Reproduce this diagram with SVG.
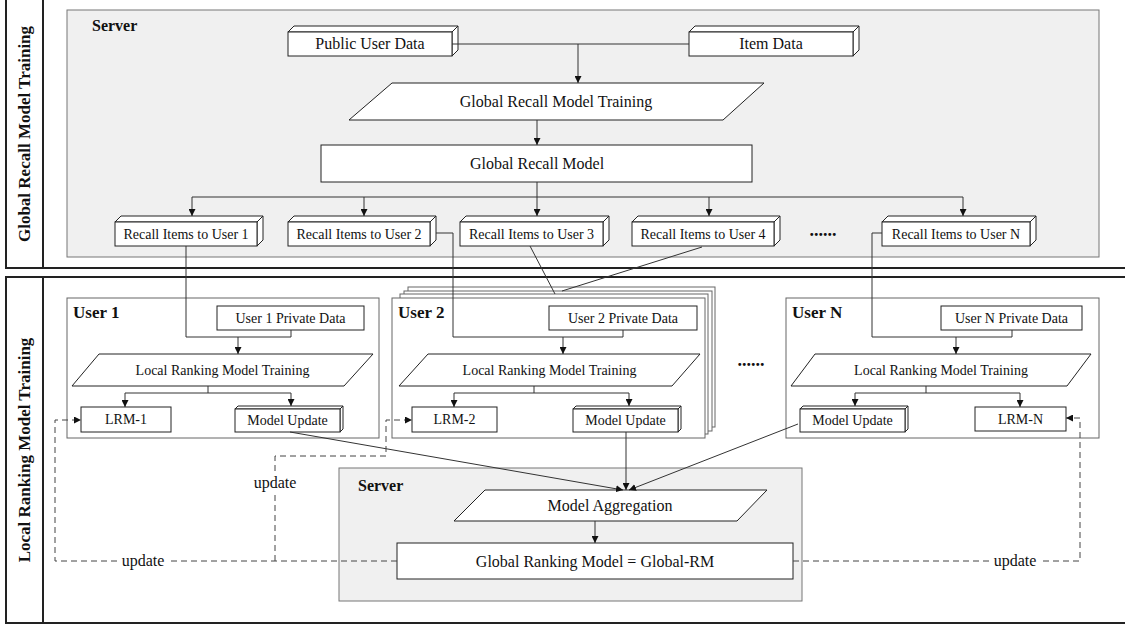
<svg xmlns="http://www.w3.org/2000/svg" width="1125" height="628" viewBox="0 0 1125 628">
<defs>
<marker id="ah" viewBox="0 0 10 10" refX="10" refY="5" markerWidth="7" markerHeight="7" markerUnits="userSpaceOnUse" orient="auto">
<path d="M0,0 L10,5 L0,10 z" fill="#111"/>
</marker>
</defs>
<style>
text{font-family:"Liberation Serif","Times New Roman",serif;fill:#111}
.t16{font-size:16px;text-anchor:middle}
.t14{font-size:14px;text-anchor:middle}
.b{font-weight:bold}
.lbl{font-size:17px;font-weight:bold;text-anchor:middle}
.frame{fill:none;stroke:#222;stroke-width:2}
.srv{fill:#f0f0f0;stroke:#777;stroke-width:1}
.user{fill:#fff;stroke:#666;stroke-width:1}
.box{fill:#fff;stroke:#222;stroke-width:1}
.conn{fill:none;stroke:#333;stroke-width:1}
.dash{fill:none;stroke:#444;stroke-width:1;stroke-dasharray:6 4}
.bg{fill:#fff}
</style>

<!-- frames -->
<g id="frames">
<path class="frame" d="M6,-2 V268 H1127"/>
<line class="frame" x1="43" y1="-2" x2="43" y2="268"/>
<path class="frame" d="M1127,277 H6 V623 H1127"/>
<line class="frame" x1="43" y1="277" x2="43" y2="623"/>
<text class="lbl" transform="translate(30,134) rotate(-90)">Global Recall Model Training</text>
<text class="lbl" transform="translate(30,450) rotate(-90)">Local Ranking Model Training</text>
</g>

<!-- top server -->
<g id="server-top">
<rect class="srv" x="67" y="10" width="1032" height="247"/>
<text x="92" y="31" class="b" style="font-size:16px">Server</text>
</g>

<g id="public-user-data">
<polygon class="box" points="288,32 294,26 458,26 452,32"/>
<polygon class="box" points="452,32 458,26 458,50 452,56"/>
<rect class="box" x="288" y="32" width="164" height="24"/>
<text class="t16" x="370" y="49">Public User Data</text>
</g>
<g id="item-data">
<polygon class="box" points="689,32 695,26 859,26 853,32"/>
<polygon class="box" points="853,32 859,26 859,50 853,56"/>
<rect class="box" x="689" y="32" width="164" height="24"/>
<text class="t16" x="771" y="49">Item Data</text>
</g>
<g id="global-recall-training">
<polygon class="box" points="392,83 764,83 723,120 349,120"/>
<text class="t16" x="556" y="107">Global Recall Model Training</text>
</g>
<g id="global-recall-model">
<rect class="box" x="321" y="145" width="431" height="37"/>
<text class="t16" x="537" y="169">Global Recall Model</text>
</g>

<g id="recall-1">
<polygon class="box" points="115,222 121,216 263,216 257,222"/>
<polygon class="box" points="257,222 263,216 263,240 257,246"/>
<rect class="box" x="115" y="222" width="142" height="24"/>
<text class="t14" x="186" y="239">Recall Items to User 1</text>
</g>
<g id="recall-2">
<polygon class="box" points="288,222 294,216 436,216 430,222"/>
<polygon class="box" points="430,222 436,216 436,240 430,246"/>
<rect class="box" x="288" y="222" width="142" height="24"/>
<text class="t14" x="359" y="239">Recall Items to User 2</text>
</g>
<g id="recall-3">
<polygon class="box" points="460,222 466,216 609,216 603,222"/>
<polygon class="box" points="603,222 609,216 609,240 603,246"/>
<rect class="box" x="460" y="222" width="143" height="24"/>
<text class="t14" x="531.5" y="239">Recall Items to User 3</text>
</g>
<g id="recall-4">
<polygon class="box" points="632,222 638,216 780,216 774,222"/>
<polygon class="box" points="774,222 780,216 780,240 774,246"/>
<rect class="box" x="632" y="222" width="142" height="24"/>
<text class="t14" x="703" y="239">Recall Items to User 4</text>
</g>
<text class="b" x="823" y="236" style="font-size:18px;text-anchor:middle">......</text>
<g id="recall-n">
<polygon class="box" points="882,222 888,216 1036,216 1030,222"/>
<polygon class="box" points="1030,222 1036,216 1036,240 1030,246"/>
<rect class="box" x="882" y="222" width="148" height="24"/>
<text class="t14" x="956" y="239">Recall Items to User N</text>
</g>

<!-- User 1 -->
<g id="user-1">
<rect class="user" x="67" y="298" width="312" height="140"/>
<text x="73" y="318" class="b" style="font-size:17px">User 1</text>
<rect class="box" x="217" y="306" width="147" height="24"/>
<text class="t14" x="290.5" y="323">User 1 Private Data</text>
<polygon class="box" points="99,354 373,354 344,386 72,386"/>
<text class="t14" x="222.5" y="375">Local Ranking Model Training</text>
<rect class="box" x="81" y="407" width="90" height="25"/>
<text class="t14" x="126" y="424">LRM-1</text>
<polygon class="box" points="235,409 238,406 343,406 340,409"/>
<polygon class="box" points="340,409 343,406 343,429 340,432"/>
<rect class="box" x="235" y="409" width="105" height="23"/>
<text class="t14" x="287.5" y="425">Model Update</text>
</g>

<!-- User 2 (stacked) -->
<g id="user-2">
<rect class="user" x="408" y="287" width="307" height="140"/>
<rect class="user" x="404" y="291" width="308" height="140"/>
<rect class="user" x="400" y="294" width="308" height="140"/>
<rect class="user" x="392" y="298" width="313" height="140"/>
<text x="398" y="318" class="b" style="font-size:17px">User 2</text>
<rect class="box" x="549" y="306" width="148" height="24"/>
<text class="t14" x="623" y="323">User 2 Private Data</text>
<polygon class="box" points="428,354 700,354 672,386 399,386"/>
<text class="t14" x="549.5" y="375">Local Ranking Model Training</text>
<rect class="box" x="412" y="407" width="85" height="25"/>
<text class="t14" x="454.5" y="424">LRM-2</text>
<polygon class="box" points="573,409 576,406 681,406 678,409"/>
<polygon class="box" points="678,409 681,406 681,429 678,432"/>
<rect class="box" x="573" y="409" width="105" height="23"/>
<text class="t14" x="625.5" y="425">Model Update</text>
</g>

<text class="b" x="751" y="366" style="font-size:18px;text-anchor:middle">......</text>

<!-- User N -->
<g id="user-n">
<rect class="user" x="786" y="298" width="313" height="140"/>
<text x="792" y="318" class="b" style="font-size:17px">User N</text>
<rect class="box" x="941" y="306" width="141" height="24"/>
<text class="t14" x="1011.5" y="323">User N Private Data</text>
<polygon class="box" points="815,354 1091,354 1067,386 791,386"/>
<text class="t14" x="941" y="375">Local Ranking Model Training</text>
<polygon class="box" points="800,409 803,406 908,406 905,409"/>
<polygon class="box" points="905,409 908,406 908,429 905,432"/>
<rect class="box" x="800" y="409" width="105" height="23"/>
<text class="t14" x="852.5" y="425">Model Update</text>
<rect class="box" x="975" y="407" width="91" height="24"/>
<text class="t14" x="1020.5" y="424">LRM-N</text>
</g>

<!-- bottom server -->
<g id="server-bottom">
<rect class="srv" x="339" y="468" width="463" height="133"/>
<text x="358" y="491" class="b" style="font-size:16px">Server</text>
</g>
<g id="model-aggregation">
<polygon class="box" points="485,490 767,490 737,521 454,521"/>
<text class="t16" x="610" y="511">Model Aggregation</text>
</g>
<g id="global-ranking-model">
<rect class="box" x="397" y="543" width="396" height="36"/>
<text class="t16" x="595" y="567">Global Ranking Model = Global-RM</text>
</g>

<!-- connectors -->
<g id="connectors">
<line class="conn" x1="452" y1="44" x2="689" y2="44"/>
<line class="conn" x1="578" y1="44" x2="578" y2="83" marker-end="url(#ah)"/>
<line class="conn" x1="537" y1="120" x2="537" y2="145" marker-end="url(#ah)"/>
<path class="conn" d="M537,182 V197 M192,197 H963"/>
<line class="conn" x1="192" y1="197" x2="192" y2="216" marker-end="url(#ah)"/>
<line class="conn" x1="364" y1="197" x2="364" y2="216" marker-end="url(#ah)"/>
<line class="conn" x1="537" y1="197" x2="537" y2="216" marker-end="url(#ah)"/>
<line class="conn" x1="709" y1="197" x2="709" y2="216" marker-end="url(#ah)"/>
<line class="conn" x1="963" y1="197" x2="963" y2="216" marker-end="url(#ah)"/>

<path class="conn" d="M186,246 V337 H291 V330"/>
<line class="conn" x1="238" y1="337" x2="238" y2="354" marker-end="url(#ah)"/>
<path class="conn" d="M436,233 H453 V337 H623 V330"/>
<line class="conn" x1="563" y1="337" x2="563" y2="354" marker-end="url(#ah)"/>
<path class="conn" d="M882,233 H872 V337 H1012 V330"/>
<line class="conn" x1="956" y1="337" x2="956" y2="354" marker-end="url(#ah)"/>
<line class="conn" x1="530" y1="246" x2="555" y2="294"/>
<line class="conn" x1="702" y1="247" x2="562" y2="291"/>

<path class="conn" d="M208,386 V393 M125,393 H291"/>
<line class="conn" x1="125" y1="393" x2="125" y2="407" marker-end="url(#ah)"/>
<line class="conn" x1="291" y1="393" x2="291" y2="406" marker-end="url(#ah)"/>
<path class="conn" d="M534,386 V393 M454,393 H629"/>
<line class="conn" x1="454" y1="393" x2="454" y2="407" marker-end="url(#ah)"/>
<line class="conn" x1="629" y1="393" x2="629" y2="406" marker-end="url(#ah)"/>
<path class="conn" d="M926,386 V393 M855,393 H1020"/>
<line class="conn" x1="855" y1="393" x2="855" y2="406" marker-end="url(#ah)"/>
<line class="conn" x1="1020" y1="393" x2="1020" y2="407" marker-end="url(#ah)"/>

<line class="conn" x1="290" y1="432" x2="623" y2="490" marker-end="url(#ah)"/>
<line class="conn" x1="626" y1="432" x2="626" y2="490" marker-end="url(#ah)"/>
<line class="conn" x1="798" y1="424" x2="629" y2="490" marker-end="url(#ah)"/>
<line class="conn" x1="595" y1="521" x2="595" y2="543" marker-end="url(#ah)"/>

<path class="dash" d="M397,561 H55 V420 H81" marker-end="url(#ah)"/>
<path class="dash" d="M275,561 V456 H386 V420 H412" marker-end="url(#ah)"/>
<path class="dash" d="M793,561 H1080 V418 H1066" marker-end="url(#ah)"/>
<rect class="bg" x="119" y="553" width="48" height="16"/>
<text class="t16" x="143" y="566">update</text>
<rect class="bg" x="251" y="474" width="48" height="18"/>
<text class="t16" x="275" y="488">update</text>
<rect class="bg" x="991" y="553" width="48" height="16"/>
<text class="t16" x="1015" y="566">update</text>
</g>
</svg>
